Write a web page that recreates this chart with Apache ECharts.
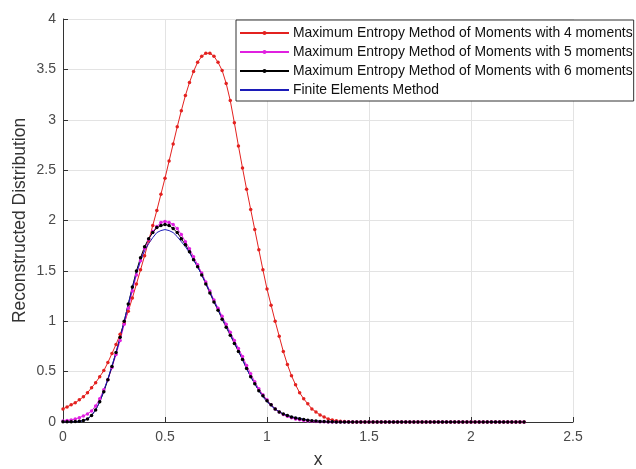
<!DOCTYPE html>
<html>
<head>
<meta charset="utf-8">
<script src="https://cdn.jsdelivr.net/npm/echarts@6/dist/echarts.min.js"></script>
<style>html,body{margin:0;padding:0;background:#fff}#c{width:636px;height:469px}</style>
</head>
<body>
<div id="c"></div>
<script>
var xs = [0.00,0.02,0.04,0.06,0.08,0.10,0.12,0.14,0.16,0.18,0.20,0.22,0.24,0.26,0.28,0.30,0.32,0.34,0.36,0.38,
0.40,0.42,0.44,0.46,0.48,0.50,0.52,0.54,0.56,0.58,0.60,0.62,0.64,0.66,0.68,0.70,0.72,0.74,0.76,0.78,
0.80,0.82,0.84,0.86,0.88,0.90,0.92,0.94,0.96,0.98,1.00,1.02,1.04,1.06,1.08,1.10,1.12,1.14,1.16,1.18,
1.20,1.22,1.24,1.26,1.28,1.30,1.32,1.34,1.36,1.38,1.40,1.42,1.44,1.46,1.48,1.50,1.52,1.54,1.56,1.58,
1.60,1.62,1.64,1.66,1.68,1.70,1.72,1.74,1.76,1.78,1.80,1.82,1.84,1.86,1.88,1.90,1.92,1.94,1.96,1.98,
2.00,2.02,2.04,2.06,2.08,2.10,2.12,2.14,2.16,2.18,2.20,2.22,2.24,2.26];

// values for x = 0.00 .. 1.40
var mem4 = [0.13,0.15,0.17,0.19,0.22,0.25,0.29,0.34,0.39,0.45,0.51,0.59,0.68,0.77,0.87,0.98,1.10,1.23,1.37,1.51,
1.65,1.80,1.95,2.10,2.26,2.42,2.59,2.76,2.93,3.09,3.24,3.37,3.48,3.57,3.63,3.66,3.66,3.63,3.57,3.49,
3.36,3.19,2.97,2.74,2.52,2.31,2.11,1.91,1.71,1.51,1.32,1.16,1.00,0.85,0.70,0.57,0.46,0.37,0.29,0.23,
0.18,0.13,0.10,0.07,0.05,0.03,0.02,0.012,0.007,0.004,0.002];
var mem5 = [0.01,0.014,0.02,0.03,0.043,0.06,0.08,0.11,0.16,0.23,0.32,0.42,0.54,0.67,0.81,0.97,1.13,1.30,1.46,1.60,
1.72,1.81,1.89,1.94,1.98,1.99,1.98,1.96,1.92,1.86,1.79,1.72,1.64,1.56,1.48,1.39,1.30,1.21,1.13,1.05,
0.97,0.89,0.81,0.73,0.65,0.56,0.48,0.40,0.33,0.27,0.22,0.17,0.13,0.10,0.075,0.056,0.042,0.031,0.022,0.016,
0.011,0.007,0.005,0.003,0.002,0.001,0,0,0,0,0];
var mem6 = [0.002,0.002,0.003,0.004,0.007,0.014,0.03,0.065,0.12,0.20,0.30,0.42,0.55,0.69,0.84,1.00,1.17,1.34,1.50,1.63,
1.74,1.82,1.88,1.93,1.95,1.96,1.95,1.92,1.88,1.82,1.76,1.69,1.61,1.54,1.46,1.37,1.28,1.19,1.11,1.02,
0.94,0.86,0.78,0.70,0.62,0.53,0.45,0.38,0.31,0.26,0.21,0.17,0.13,0.10,0.08,0.065,0.05,0.04,0.032,0.025,
0.018,0.013,0.009,0.006,0.004,0.003,0.002,0.001,0.001,0,0];
var fem = [0,0,0.001,0.003,0.006,0.012,0.03,0.065,0.12,0.20,0.31,0.43,0.56,0.69,0.84,1.00,1.17,1.33,1.48,1.60,
1.70,1.77,1.83,1.88,1.90,1.91,1.90,1.88,1.84,1.79,1.74,1.68,1.61,1.54,1.46,1.38,1.29,1.20,1.12,1.03,
0.95,0.87,0.79,0.71,0.62,0.53,0.45,0.38,0.31,0.25,0.20,0.16,0.13,0.10,0.08,0.065,0.053,0.043,0.035,0.027,
0.020,0.015,0.011,0.008,0.006,0.004,0.003,0.002,0.001,0.001,0];
// values for x = 1.42 .. 2.26 (all curves flat at zero)
var tail = [0,0,0,0,0,0,0,0,0,0,0,0,0,0,0,0,0,0,0,0,0,0,0,0,0,0,0,0,0,0,0,0,0,0,0,0,0,0,0,0,0,0,0];

var names = ['Maximum Entropy Method of Moments with 4 moments',
             'Maximum Entropy Method of Moments with 5 moments',
             'Maximum Entropy Method of Moments with 6 moments',
             'Finite Elements Method'];
var xTicks = [0, 0.5, 1, 1.5, 2, 2.5];
var yTicks = [0, 0.5, 1, 1.5, 2, 2.5, 3, 3.5, 4];

function pairs(v) {
  var all = v.concat(tail);
  return xs.map(function (x, i) { return [x, all[i]]; });
}

var FONT = 'Liberation Sans, Arial, sans-serif';
var chart = echarts.init(document.getElementById('c'), null, {renderer: 'canvas'});

function mk(name, data, color, sym) {
  return {
    name: name, type: 'line', data: pairs(data),
    symbol: sym ? 'circle' : 'none', symbolSize: 3.5, showSymbol: !!sym,
    lineStyle: {color: color, width: 1},
    itemStyle: {color: color},
    emphasis: {disabled: true}, animation: false, z: 2
  };
}

chart.setOption({
  animation: false,
  backgroundColor: '#fff',
  grid: {left: 63, right: 63, top: 19, bottom: 47, containLabel: false, outerBoundsMode: 'none'},
  legend: {
    orient: 'vertical', left: 236, top: 20,
    backgroundColor: '#fff', borderColor: '#333', borderWidth: 1,
    padding: [5, 1, 3, 3], itemGap: 3, itemWidth: 49, itemHeight: 5,
    textStyle: {fontFamily: FONT, fontSize: 13.9, color: '#111', padding: [0, 0, 0, -1], lineHeight: 16},
    data: [
      {name: names[0]},
      {name: names[1]},
      {name: names[2]},
      {name: names[3], itemStyle: {color: 'rgba(0,0,0,0)', borderWidth: 0, opacity: 0}}
    ]
  },
  xAxis: {
    type: 'value', min: 0, max: 2.5, interval: 0.5,
    name: 'x', nameLocation: 'middle', nameGap: 29, nameMoveOverlap: false,
    nameTextStyle: {fontFamily: FONT, fontSize: 17.5, color: '#333'},
    axisLine: {show: true, onZero: false, lineStyle: {color: '#333', width: 1}},
    axisTick: {show: true, inside: true, length: 5, lineStyle: {color: '#333'}},
    axisLabel: {fontFamily: FONT, fontSize: 14, color: '#4a4a4a', margin: 8,
      formatter: function (v) { return xTicks.indexOf(v) >= 0 ? String(v) : ''; }},
    splitLine: {show: true, lineStyle: {color: '#e3e3e3', width: 1}}
  },
  yAxis: {
    type: 'value', min: 0, max: 4, interval: 0.5,
    name: 'Reconstructed Distribution', nameLocation: 'middle', nameGap: 34, nameMoveOverlap: false,
    nameTextStyle: {fontFamily: FONT, fontSize: 17.5, color: '#333'},
    axisLine: {show: true, lineStyle: {color: '#333', width: 1}},
    axisTick: {show: true, inside: true, length: 5, lineStyle: {color: '#333'}},
    axisLabel: {fontFamily: FONT, fontSize: 14, color: '#4a4a4a', margin: 7,
      formatter: function (v) { return yTicks.indexOf(v) >= 0 ? String(v) : ''; }},
    splitLine: {show: true, lineStyle: {color: '#e3e3e3', width: 1}}
  },
  series: [
    mk(names[0], mem4, '#e3211f', true),
    mk(names[1], mem5, '#e020e0', true),
    mk(names[2], mem6, '#000000', true),
    mk(names[3], fem, '#1c1cb8', false)
  ]
});
</script>
</body>
</html>
